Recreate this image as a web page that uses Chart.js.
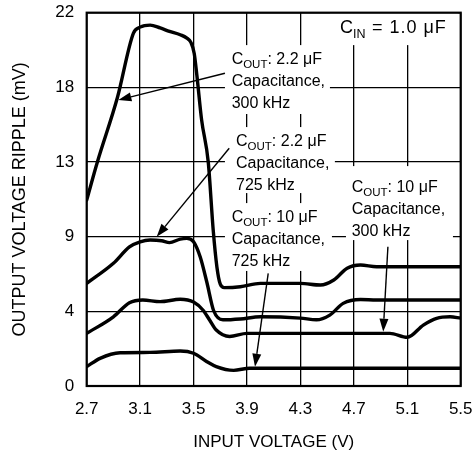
<!DOCTYPE html>
<html>
<head>
<meta charset="utf-8">
<script src="https://cdn.jsdelivr.net/npm/chart.js@4.4.1/dist/chart.umd.min.js"></script>
<style>
  html, body { margin: 0; padding: 0; background: #fff; }
  #ripple-chart { display: block; }
</style>
</head>
<body>
<canvas id="ripple-chart" width="474" height="456" style="width:474px;height:456px"></canvas>
<script>
// Output voltage ripple vs input voltage, four C_OUT / frequency combinations

// x axis ticks (V)
const xTicks = [2.7, 3.1, 3.5, 3.9, 4.3, 4.7, 5.1, 5.5];
// y gridlines sit on 4.4 mV steps, the labels are printed rounded
const yTicks = [0, 4.4, 8.8, 13.2, 17.6, 22];
const yTickLabels = ['0', '4', '9', '13', '18', '22'];

// C_OUT 2.2 uF, 300 kHz
const cout22k300X = [2.70, 2.78, 2.93, 3.05, 3.10, 3.175, 3.25, 3.32, 3.40, 3.45, 3.48, 3.505, 3.525, 3.56, 3.61, 3.647, 3.675, 3.70, 3.73, 3.85, 4.00, 4.30, 4.45, 4.55, 4.65, 4.75, 4.87, 5.50];
const cout22k300Y = [10.96, 13.2, 17.0, 20.8, 21.15, 21.27, 21.1, 20.9, 20.7, 20.5, 20.25, 19.6, 18.3, 15.7, 13.2, 9.2, 7.0, 6.0, 5.8, 5.85, 6.05, 6.05, 5.95, 6.25, 6.94, 7.13, 7.03, 7.03];

// C_OUT 2.2 uF, 725 kHz
const cout22k725X = [2.70, 2.90, 3.02, 3.10, 3.175, 3.26, 3.32, 3.40, 3.45, 3.50, 3.55, 3.60, 3.65, 3.72, 3.85, 4.00, 4.30, 4.42, 4.52, 4.62, 4.75, 4.87, 5.50];
const cout22k725Y = [6.05, 7.23, 8.2, 8.5, 8.6, 8.56, 8.45, 8.66, 8.7, 8.5, 7.6, 6.1, 4.45, 3.9, 3.95, 4.08, 4.0, 3.9, 4.18, 4.87, 5.1, 5.07, 5.07];

// C_OUT 10 uF, 300 kHz
const cout10k300X = [2.70, 2.90, 3.02, 3.12, 3.25, 3.40, 3.50, 3.57, 3.62, 3.67, 3.77, 3.90, 4.97, 5.10, 5.22, 5.32, 5.42, 5.50];
const cout10k300Y = [3.1, 4.08, 4.91, 5.07, 4.97, 5.11, 4.95, 4.48, 3.89, 3.3, 2.92, 3.1, 3.1, 2.87, 3.59, 3.99, 4.08, 4.0];

// C_OUT 10 uF, 725 kHz
const cout10k725X = [2.70, 2.80, 2.95, 3.175, 3.40, 3.50, 3.60, 3.67, 3.80, 3.92, 5.50];
const cout10k725Y = [1.14, 1.63, 1.96, 1.98, 2.06, 1.93, 1.43, 1.14, 0.92, 1.05, 1.05];

const FONT = "'Liberation Sans', Arial, sans-serif";

// callout texts, anchored at the left end of the first baseline (data coords)
const callouts = [
    { x: 3.785, y: 18.97, sub: 'OUT', rest: ': 2.2 \u03bcF', lines: ['Capacitance,', '300 kHz'] },
    { x: 3.818, y: 14.14, sub: 'OUT', rest: ': 2.2 \u03bcF', lines: ['Capacitance,', '725 kHz'] },
    { x: 3.785, y: 9.68, sub: 'OUT', rest: ': 10 \u03bcF', lines: ['Capacitance,', '725 kHz'] },
    { x: 4.684, y: 11.45, sub: 'OUT', rest: ': 10 \u03bcF', lines: ['Capacitance,', '300 kHz'] }
];

// white patches that break the grid behind the texts [x0, x1, yTop, yBottom]
const textPatches = [
    [3.735, 4.521, 20.09, 16.03],
    [3.735, 4.558, 15.26, 11.37],
    [3.735, 4.536, 10.78, 6.78],
    [4.641, 5.442, 12.96, 8.60],
    [4.521, 5.479, 21.98, 20.09]
];

// arrows [fromX, fromY, toX, toY]
const arrows = [
    [3.735, 18.43, 2.937, 16.85],
    [3.767, 14.01, 3.224, 8.80],
    [4.059, 6.64, 3.960, 1.14],
    [4.955, 8.21, 4.920, 3.20]
];

function toPoints(xs, ys) {
    return xs.map((x, i) => ({ x: x, y: ys[i] }));
}

function drawArrow(ctx, x1, y1, x2, y2) {
    const ang = Math.atan2(y2 - y1, x2 - x1);
    const head = 13, half = 4.5;
    const cos = Math.cos(ang), sin = Math.sin(ang);
    const bx = x2 - head * cos, by = y2 - head * sin;
    ctx.beginPath();
    ctx.moveTo(x1, y1);
    ctx.lineTo(bx, by);
    ctx.stroke();
    ctx.beginPath();
    ctx.moveTo(x2, y2);
    ctx.lineTo(bx + half * sin, by - half * cos);
    ctx.lineTo(bx - half * sin, by + half * cos);
    ctx.closePath();
    ctx.fill();
}

// drop the label-overflow padding so the plot area is exactly the layout box
function noOverflow(s) {
    s.paddingLeft = 0;
    s.paddingRight = 0;
    s.paddingTop = 0;
    s.paddingBottom = 0;
}

const calloutPlugin = {
    id: 'callouts',
    beforeDatasetsDraw(chart) {
        const { ctx, chartArea, scales } = chart;
        const sx = scales.x, sy = scales.y;
        ctx.save();
        ctx.fillStyle = '#fff';
        textPatches.forEach(p => {
            const x0 = sx.getPixelForValue(p[0]);
            const x1 = sx.getPixelForValue(p[1]);
            const y0 = sy.getPixelForValue(p[2]);
            const y1 = sy.getPixelForValue(p[3]);
            ctx.fillRect(x0, y0, x1 - x0, y1 - y0);
        });
        // plot frame
        ctx.strokeStyle = '#000';
        ctx.lineWidth = 2.2;
        ctx.strokeRect(chartArea.left, chartArea.top, chartArea.width, chartArea.height);
        ctx.restore();
    },
    afterDatasetsDraw(chart) {
        const { ctx, scales } = chart;
        const sx = scales.x, sy = scales.y;
        ctx.save();
        ctx.fillStyle = '#000';
        ctx.strokeStyle = '#000';
        ctx.textBaseline = 'alphabetic';
        ctx.textAlign = 'left';

        callouts.forEach(c => {
            let px = sx.getPixelForValue(c.x);
            const py = sy.getPixelForValue(c.y);
            ctx.font = '16px ' + FONT;
            ctx.fillText('C', px, py);
            px += ctx.measureText('C').width;
            ctx.font = '11.5px ' + FONT;
            ctx.fillText(c.sub, px, py + 4.3);
            px += ctx.measureText(c.sub).width;
            ctx.font = '16px ' + FONT;
            ctx.fillText(c.rest, px, py);
            c.lines.forEach((t, i) => {
                ctx.fillText(t, sx.getPixelForValue(c.x), py + 22 * (i + 1));
            });
        });

        // C_IN note, top right
        const cx = sx.getPixelForValue(4.596);
        const cy = sy.getPixelForValue(20.78);
        ctx.font = '18px ' + FONT;
        ctx.fillText('C', cx, cy);
        const cw = ctx.measureText('C').width;
        ctx.font = '12.5px ' + FONT;
        ctx.fillText('IN', cx + cw, cy + 4.5);
        ctx.font = '18px ' + FONT;
        ctx.letterSpacing = '1px';
        ctx.fillText('= 1.0 \u03bcF', sx.getPixelForValue(4.8355), cy);
        ctx.letterSpacing = '0px';

        ctx.lineWidth = 1.4;
        arrows.forEach(a => {
            drawArrow(ctx,
                sx.getPixelForValue(a[0]), sy.getPixelForValue(a[1]),
                sx.getPixelForValue(a[2]), sy.getPixelForValue(a[3]));
        });
        ctx.restore();
    }
};

function curve(xs, ys) {
    return {
        data: toPoints(xs, ys),
        borderColor: '#000',
        borderWidth: 3.4,
        pointRadius: 0,
        fill: false,
        tension: 0.4,
        cubicInterpolationMode: 'monotone',
        borderCapStyle: 'round',
        borderJoinStyle: 'round'
    };
}

function createRippleChart() {
    const canvas = document.getElementById('ripple-chart');
    if (!canvas) return;

    new Chart(canvas, {
        type: 'line',
        data: {
            datasets: [
                curve(cout22k300X, cout22k300Y),
                curve(cout22k725X, cout22k725Y),
                curve(cout10k300X, cout10k300Y),
                curve(cout10k725X, cout10k725Y)
            ]
        },
        options: {
            responsive: false,
            animation: false,
            layout: { padding: { top: 12.7, right: 13.3, left: 0, bottom: 0 } },
            plugins: {
                legend: { display: false },
                tooltip: { enabled: false }
            },
            scales: {
                x: {
                    type: 'linear',
                    min: 2.7,
                    max: 5.5,
                    afterBuildTicks: s => { s.ticks = xTicks.map(v => ({ value: v })); },
                    afterFit: s => { s.height = 70; noOverflow(s); },
                    ticks: {
                        callback: v => v.toFixed(1),
                        color: '#000',
                        font: { family: FONT, size: 17 },
                        padding: 12.8,
                        maxRotation: 0
                    },
                    grid: { color: '#000', lineWidth: 1.3, drawTicks: false },
                    border: { display: false },
                    title: {
                        display: true,
                        text: 'INPUT VOLTAGE (V)',
                        color: '#000',
                        font: { family: FONT, size: 17 },
                        padding: { top: 0, bottom: 3.3 }
                    }
                },
                y: {
                    min: 0,
                    max: 22,
                    afterBuildTicks: s => { s.ticks = yTicks.map(v => ({ value: v })); },
                    afterFit: s => { s.width = 86.7; noOverflow(s); },
                    ticks: {
                        callback: (v, i) => yTickLabels[i],
                        color: '#000',
                        font: { family: FONT, size: 17 },
                        padding: 12.5
                    },
                    grid: { color: '#000', lineWidth: 1.3, drawTicks: false },
                    border: { display: false },
                    title: {
                        display: true,
                        text: 'OUTPUT VOLTAGE RIPPLE (mV)',
                        color: '#000',
                        font: { family: FONT, size: 18 },
                        padding: { top: 9.7, bottom: 0 }
                    }
                }
            }
        },
        plugins: [calloutPlugin]
    });
}

document.addEventListener('DOMContentLoaded', createRippleChart);
</script>
</body>
</html>
